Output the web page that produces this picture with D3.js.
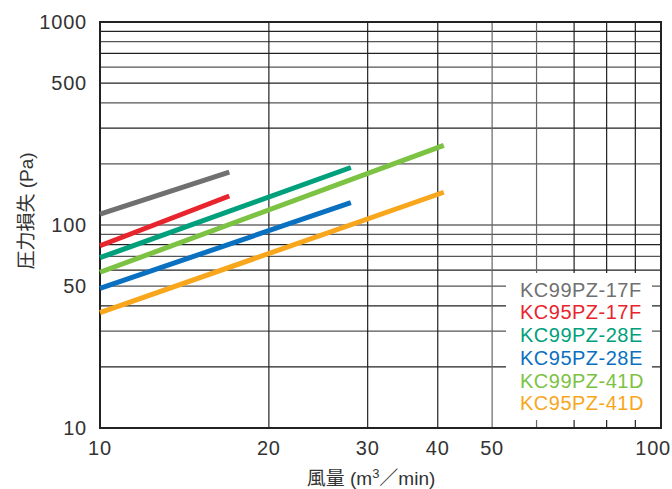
<!DOCTYPE html>
<html><head><meta charset="utf-8">
<script src="https://cdn.jsdelivr.net/npm/d3@7"></script>
<style>body{margin:0;background:#fff}svg{display:block}text{font-family:"Liberation Sans","Noto Sans CJK JP",sans-serif}</style>
</head><body><svg id="c" width="672" height="489"></svg>
<script>
const seriesNames = ["KC99PZ-17F","KC95PZ-17F","KC99PZ-28E","KC95PZ-28E","KC99PZ-41D","KC95PZ-41D"];
const seriesColors = ["#707070","#e8242c","#00a07c","#0a70c0","#7cc243","#f8a61c"];
const flowValues = [[10,17],[10,17],[10,28],[10,28],[10,41],[10,41]];
const pressureValues = [[113,182],[79,139],[69,192],[48.7,129],[58.5,247],[37,145]];
const xGrid = [10,20,30,40,50,60,70,80,90,100];
const xTickLabels = [10,20,30,40,50,100];
const yGrid = [10,20,30,40,50,60,70,80,90,100,200,300,400,500,600,700,800,900,1000];
const yTickLabels = [10,50,100,500,1000];

const svg = d3.select("#c");
const L=100,R=661,T=22,B=428;
const x = d3.scaleLog().domain([10,100]).range([L,R]);
const y = d3.scaleLog().domain([10,1000]).range([B,T]);

const g = svg.append("g");
g.selectAll("line.h").data(yGrid).join("line")
  .attr("x1",L).attr("x2",R).attr("y1",d=>y(d)).attr("y2",d=>y(d))
  .attr("stroke",(d,i)=>i%2?"#222":"#555").attr("stroke-width",1.2);
g.selectAll("line.v").data(xGrid).join("line")
  .attr("y1",T).attr("y2",B).attr("x1",d=>x(d)).attr("x2",d=>x(d))
  .attr("stroke",d=>(d===50||d===60)?"#666":"#222").attr("stroke-width",1.2);

// legend background
svg.append("rect").attr("x",506).attr("y",273).attr("width",146).attr("height",147).attr("fill","#fff");

svg.append("rect").attr("x",L).attr("y",T).attr("width",R-L).attr("height",B-T)
  .attr("fill","none").attr("stroke","#222").attr("stroke-width",2);

const line = d3.line().x(d=>x(d[0])).y(d=>y(d[1]));
seriesNames.forEach((n,i)=>{
  const pts = flowValues[i].map((f,j)=>[f,pressureValues[i][j]]);
  svg.append("path").attr("d",line(pts)).attr("fill","none")
    .attr("stroke",seriesColors[i]).attr("stroke-width",5);
});

svg.selectAll("text.yt").data(yTickLabels).join("text")
  .attr("x",87).attr("y",d=>y(d)+7).attr("text-anchor","end")
  .attr("font-size",20).attr("letter-spacing",0.8).attr("fill","#333").text(d=>d);
svg.selectAll("text.xt").data(xTickLabels).join("text")
  .attr("x",d=>d===100?671:x(d)).attr("y",455).attr("text-anchor",d=>d===100?"end":"middle")
  .attr("font-size",20).attr("letter-spacing",0.8).attr("fill","#333").text(d=>d);

svg.selectAll("text.lg").data(seriesNames).join("text")
  .attr("x",520).attr("y",(d,i)=>296.7+i*22.7).attr("font-size",20).attr("letter-spacing",0.5)
  .attr("fill",(d,i)=>seriesColors[i]).text(d=>d);

svg.append("text").attr("transform","translate(26,211) rotate(-90)")
  .attr("text-anchor","middle").attr("dominant-baseline","central")
  .attr("font-size",19).attr("fill","#333").text("圧力損失 (Pa)");

const xt = svg.append("text").attr("x",371).attr("y",485).attr("text-anchor","middle")
  .attr("font-size",19).attr("fill","#333");
xt.append("tspan").text("風量 (m");
xt.append("tspan").attr("font-size",13).attr("dy",-7).text("3");
xt.append("tspan").attr("dy",7).text("／min)");
</script></body></html>
